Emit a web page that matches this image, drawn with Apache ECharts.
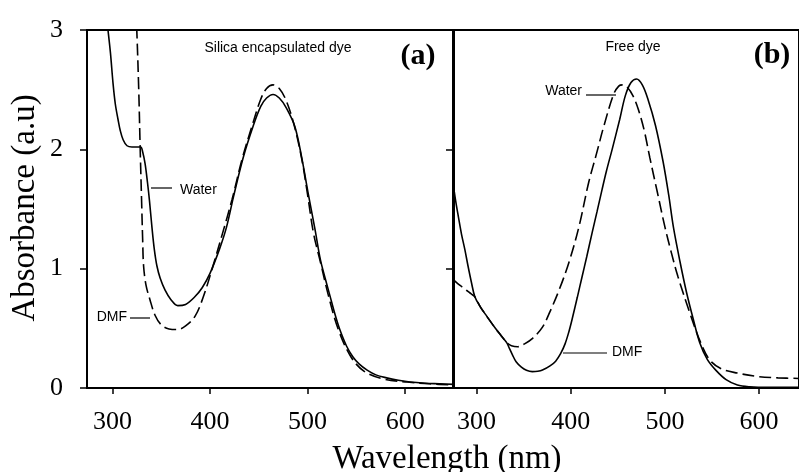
<!DOCTYPE html>
<html>
<head>
<meta charset="utf-8">
<script src="https://cdn.jsdelivr.net/npm/echarts@6/dist/echarts.min.js"></script>
<style>
  html, body { margin: 0; padding: 0; background: #fff; }
  #main { width: 799px; height: 472px; }
</style>
</head>
<body>
<div id="main"></div>
<script>
// (a) silica encapsulated dye
var silicaWaterX = [288, 292, 295.5, 298, 300.7, 303, 305.8, 308, 311, 315, 320, 325, 329, 331, 333.5, 336, 338, 340.5, 343, 345.7, 349, 354, 360, 367, 375, 384, 392, 400, 410, 417, 424, 434, 444, 452, 458, 464.6, 471, 478, 487, 494, 500.4, 507.6, 513, 518, 523, 528, 533, 540, 546.5, 553, 561, 570, 581, 593, 605, 620, 635, 650];
var silicaWaterY = [3.6, 3.25, 3.0, 2.81, 2.55, 2.38, 2.25, 2.16, 2.08, 2.03, 2.02, 2.02, 2.02, 1.98, 1.88, 1.72, 1.57, 1.35, 1.16, 1.02, 0.92, 0.82, 0.74, 0.69, 0.70, 0.76, 0.84, 0.96, 1.17, 1.35, 1.60, 1.93, 2.19, 2.36, 2.43, 2.46, 2.43, 2.35, 2.19, 1.93, 1.64, 1.33, 1.08, 0.92, 0.77, 0.62, 0.49, 0.35, 0.26, 0.2, 0.15, 0.11, 0.085, 0.065, 0.05, 0.04, 0.035, 0.03];
var silicaDmfX = [322, 325, 327, 328.5, 330, 331, 332, 334.5, 338.5, 343.7, 350, 358, 367, 375, 384.6, 393, 403, 413, 422.6, 433, 444, 452, 458, 464.5, 471, 478, 486, 494, 500, 506, 513.3, 521.5, 531.5, 544.5, 558, 578, 602, 625, 650];
var silicaDmfY = [3.6, 3.0, 2.5, 2.0, 1.55, 1.25, 1.02, 0.86, 0.74, 0.61, 0.53, 0.495, 0.49, 0.52, 0.60, 0.76, 1.02, 1.30, 1.58, 1.92, 2.22, 2.42, 2.51, 2.54, 2.51, 2.41, 2.21, 1.92, 1.62, 1.30, 1.05, 0.77, 0.49, 0.26, 0.14, 0.075, 0.05, 0.035, 0.025];
// (b) free dye
var freeDmfX = [275, 278, 280.6, 284, 287.6, 291, 294.7, 298.2, 304, 311, 320, 327, 332, 335, 338, 342, 347.6, 353, 359.2, 365, 370, 378, 384, 389.4, 394, 398, 401.6, 407, 412, 417, 422.7, 428, 433.2, 438, 444, 452, 458, 464, 470, 476, 482, 490, 498, 504, 509, 516, 523, 530, 537, 545, 554, 565, 577, 590, 610, 643];
var freeDmfY = [1.72, 1.56, 1.44, 1.29, 1.16, 1.02, 0.88, 0.765, 0.68, 0.6, 0.5, 0.43, 0.38, 0.33, 0.28, 0.22, 0.175, 0.148, 0.137, 0.14, 0.15, 0.185, 0.225, 0.29, 0.37, 0.47, 0.58, 0.76, 0.93, 1.1, 1.30, 1.48, 1.66, 1.82, 2.0, 2.25, 2.45, 2.56, 2.59, 2.54, 2.42, 2.2, 1.9, 1.62, 1.35, 1.06, 0.8, 0.58, 0.38, 0.24, 0.15, 0.07, 0.025, 0.01, 0.005, 0.005];
var freeWaterX = [275, 280, 285, 290, 294, 298.2, 304, 311, 320, 327, 332, 337, 343.8, 351, 359.5, 370, 378, 387.6, 398, 408.7, 419, 427.6, 435, 445.5, 451, 455, 460, 466, 472, 478, 484, 492, 500, 507, 514, 526, 538, 547.6, 560, 577, 600, 620, 643];
var freeWaterY = [0.91, 0.875, 0.845, 0.815, 0.79, 0.765, 0.68, 0.6, 0.5, 0.43, 0.38, 0.355, 0.346, 0.37, 0.416, 0.51, 0.64, 0.82, 1.05, 1.35, 1.72, 1.97, 2.19, 2.46, 2.53, 2.54, 2.52, 2.45, 2.33, 2.16, 1.93, 1.64, 1.35, 1.13, 0.93, 0.64, 0.38, 0.235, 0.16, 0.125, 0.095, 0.085, 0.08];

var xTicks = [300, 400, 500, 600];
var yTicks = [0, 1, 2, 3];

var serif = "'Liberation Serif', 'Times New Roman', serif";
var sans = "'Liberation Sans', Arial, sans-serif";

function pairs(xs, ys) {
	var arr = [];
	for (var i = 0; i < xs.length; i++) {
		arr.push([xs[i], ys[i]]);
	}
	return arr;
}

function xAxisOf(gridIndex, min, max) {
	return {
		type: 'value',
		gridIndex: gridIndex,
		min: min,
		max: max,
		axisLine: { show: true, onZero: false, lineStyle: { color: '#000', width: 2 } },
		axisTick: { show: true, inside: false, length: 6, customValues: xTicks, lineStyle: { color: '#000', width: 1.5 } },
		axisLabel: { show: true, customValues: xTicks, margin: 21, color: '#000', fontFamily: serif, fontSize: 26 },
		splitLine: { show: false }
	};
}

function yAxisOf(gridIndex, showLabel) {
	return {
		type: 'value',
		gridIndex: gridIndex,
		min: 0,
		max: 3,
		axisLine: { show: true, lineStyle: { color: '#000', width: 2 } },
		axisTick: { show: true, inside: false, length: 7, customValues: yTicks, lineStyle: { color: '#000', width: 1.5 } },
		axisLabel: { show: showLabel, customValues: yTicks, margin: 24, color: '#000', fontFamily: serif, fontSize: 26 },
		splitLine: { show: false }
	};
}

function curve(name, xs, ys, idx, dashed) {
	return {
		name: name,
		type: 'line',
		xAxisIndex: idx,
		yAxisIndex: idx,
		data: pairs(xs, ys),
		showSymbol: false,
		smooth: 0.35,
		clip: true,
		lineStyle: { color: '#000', width: 1.6, type: dashed ? [12, 5] : 'solid' }
	};
}

function label(text, x, y, align, font) {
	return {
		type: 'text', x: x, y: y,
		style: { text: text, fill: '#000', font: font || ('14px ' + sans), align: align, verticalAlign: 'middle' }
	};
}

function lead(x1, y1, x2, y2) {
	return {
		type: 'line',
		shape: { x1: x1, y1: y1, x2: x2, y2: y2 },
		style: { stroke: '#000', lineWidth: 1.2 }
	};
}

var myChart = echarts.init(document.getElementById('main'));
var option = {
	backgroundColor: '#ffffff',
	animation: false,
	grid: [
		{ left: 87, right: 345, top: 30, bottom: 84, show: true, borderColor: '#000', borderWidth: 2 },
		{ left: 453, right: -3, top: 30, bottom: 84, show: true, borderColor: '#000', borderWidth: 2 }
	],
	xAxis: [xAxisOf(0, 274, 650), xAxisOf(1, 275, 642.4)],
	yAxis: [yAxisOf(0, true), yAxisOf(1, false)],
	series: [
		curve('Water', silicaWaterX, silicaWaterY, 0, false),
		curve('DMF', silicaDmfX, silicaDmfY, 0, true),
		curve('DMF', freeDmfX, freeDmfY, 1, false),
		curve('Water', freeWaterX, freeWaterY, 1, true)
	],
	graphic: [
		{
			type: 'text', x: 25, y: 208, rotation: Math.PI / 2,
			style: { text: 'Absorbance (a.u)', fill: '#000', font: '33px ' + serif, align: 'center', verticalAlign: 'middle' }
		},
		label('Wavelength (nm)', 447, 459, 'center', '33px ' + serif),
		label('Silica encapsulated dye', 278, 48, 'center'),
		label('(a)', 418, 56, 'center', 'bold 30px ' + serif),
		label('Free dye', 633, 47, 'center'),
		label('(b)', 772, 55, 'center', 'bold 30px ' + serif),
		lead(151, 188, 172, 188),
		label('Water', 180, 190, 'left'),
		lead(130, 318, 150, 318),
		label('DMF', 127, 317, 'right'),
		lead(586, 95, 616, 95),
		label('Water', 582, 91, 'right'),
		lead(563, 353, 607, 353),
		label('DMF', 612, 352, 'left')
	]
};
myChart.setOption(option);
window.addEventListener('resize', function() {
	myChart.resize();
});
</script>
</body>
</html>
